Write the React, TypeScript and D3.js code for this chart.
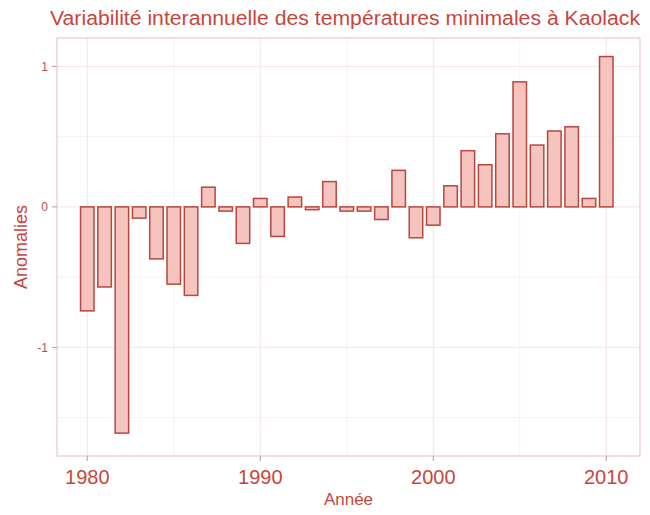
import * as d3 from "d3";

// Year and anomaly of minimum temperatures at Kaolack
const years = [
  1980, 1981, 1982, 1983, 1984, 1985, 1986, 1987, 1988, 1989, 1990, 1991, 1992,
  1993, 1994, 1995, 1996, 1997, 1998, 1999, 2000, 2001, 2002, 2003, 2004, 2005,
  2006, 2007, 2008, 2009, 2010,
];
const anomalies = [
  -0.74, -0.57, -1.61, -0.08, -0.37, -0.55, -0.63, 0.14, -0.03, -0.26, 0.06,
  -0.21, 0.07, -0.02, 0.18, -0.03, -0.03, -0.09, 0.26, -0.22, -0.13, 0.15, 0.4,
  0.3, 0.52, 0.89, 0.44, 0.54, 0.57, 0.06, 1.07,
];
const xTicks = [1980, 1990, 2000, 2010];
const xMinor = [1985, 1995, 2005];
const yTicks = [-1, 0, 1];
const yMinor = [-1.5, -0.5, 0.5];

const W = 650;
const H = 515;
const panel = { left: 57, right: 640, top: 38, bottom: 456 };
const red = "#c9453c";

export default function App() {
  const x = d3
    .scaleLinear()
    .domain([1978.25, 2011.95])
    .range([panel.left, panel.right]);
  const y = d3
    .scaleLinear()
    .domain([-1.773, 1.202])
    .range([panel.bottom, panel.top]);
  const barW = (x(1) - x(0)) * 0.78;

  return (
    <svg
      width={W}
      height={H}
      style={{ position: "absolute", left: 0, top: 0, background: "#fff" }}
      fontFamily="'Liberation Sans', Arial, sans-serif"
    >
      {/* grid */}
      {xMinor.map((d) => (
        <line key={"xm" + d} x1={x(d)} x2={x(d)} y1={panel.top} y2={panel.bottom} stroke="#fbf1f1" />
      ))}
      {yMinor.map((d) => (
        <line key={"ym" + d} x1={panel.left} x2={panel.right} y1={y(d)} y2={y(d)} stroke="#fbf1f1" />
      ))}
      {xTicks.map((d) => (
        <line key={"xg" + d} x1={x(d)} x2={x(d)} y1={panel.top} y2={panel.bottom} stroke="#f5e3e3" />
      ))}
      {yTicks.map((d) => (
        <line key={"yg" + d} x1={panel.left} x2={panel.right} y1={y(d)} y2={y(d)} stroke="#f5e3e3" />
      ))}

      {/* bars */}
      {years.map((yr, i) => {
        const v = anomalies[i];
        const y0 = y(Math.max(0, v));
        const y1 = y(Math.min(0, v));
        return (
          <rect
            key={yr}
            x={x(yr) - barW / 2}
            y={y0}
            width={barW}
            height={Math.max(1, y1 - y0)}
            fill="#f5c4bf"
            stroke="#b9463f"
            strokeWidth={1.5}
          />
        );
      })}

      {/* panel border */}
      <rect
        x={panel.left}
        y={panel.top}
        width={panel.right - panel.left}
        height={panel.bottom - panel.top}
        fill="none"
        stroke="#ebbcbc"
        strokeWidth={1}
      />

      {/* y axis */}
      {yTicks.map((d) => (
        <g key={"yt" + d}>
          <line x1={panel.left - 5} x2={panel.left} y1={y(d)} y2={y(d)} stroke="#b99" />
          <text x={panel.left - 9} y={y(d)} dy="0.35em" textAnchor="end" fontSize={12} fill="#a55">
            {d}
          </text>
        </g>
      ))}
      <text
        transform={`translate(27,${(panel.top + panel.bottom) / 2}) rotate(-90)`}
        textAnchor="middle"
        fontSize={18}
        fill={red}
      >
        Anomalies
      </text>

      {/* x axis */}
      {xTicks.map((d) => (
        <g key={"xt" + d}>
          <line x1={x(d)} x2={x(d)} y1={panel.bottom} y2={panel.bottom + 5} stroke="#b99" />
          <text x={x(d)} y={panel.bottom + 28} textAnchor="middle" fontSize={20} fill={red}>
            {d}
          </text>
        </g>
      ))}
      <text x={(panel.left + panel.right) / 2} y={505} textAnchor="middle" fontSize={17} fill={red}>
        Année
      </text>

      {/* title */}
      <text
        x={345}
        y={25}
        textAnchor="middle"
        fontSize={20}
        fill={red}
        textLength={590}
        lengthAdjust="spacingAndGlyphs"
      >
        Variabilité interannuelle des températures minimales à Kaolack
      </text>
    </svg>
  );
}
